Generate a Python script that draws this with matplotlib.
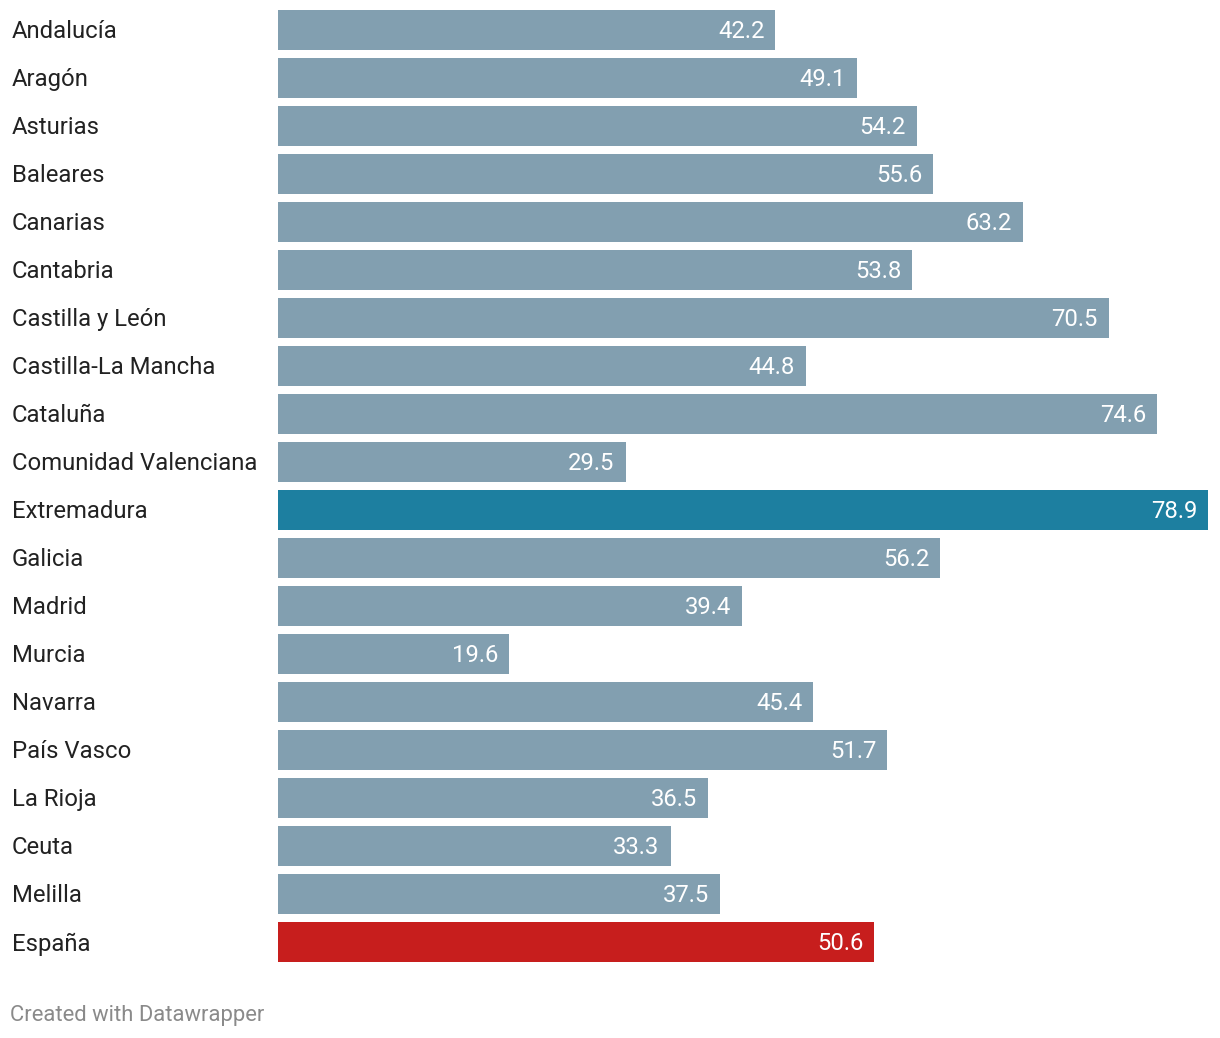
import matplotlib.pyplot as plt

plt.rcParams['font.family'] = ['Roboto', 'DejaVu Sans']

regions = ["Andalucía", "Aragón", "Asturias", "Baleares", "Canarias", "Cantabria",
           "Castilla y León", "Castilla-La Mancha", "Cataluña", "Comunidad Valenciana",
           "Extremadura", "Galicia", "Madrid", "Murcia", "Navarra", "País Vasco",
           "La Rioja", "Ceuta", "Melilla", "España"]
values = [42.2, 49.1, 54.2, 55.6, 63.2, 53.8, 70.5, 44.8, 74.6, 29.5,
          78.9, 56.2, 39.4, 19.6, 45.4, 51.7, 36.5, 33.3, 37.5, 50.6]

base_color = "#829fb0"
highlight = {"Extremadura": "#1d7fa0", "España": "#c71e1d"}
colors = [highlight.get(r, base_color) for r in regions]

W, H = 1220, 1038
fig = plt.figure(figsize=(W / 100, H / 100), dpi=100)
ax = fig.add_axes([278 / W, (H - 966) / H, 930 / W, 960 / H])

ypos = list(range(len(regions)))
ax.barh(ypos, values, height=40 / 48, color=colors)
ax.set_xlim(0, max(values))
ax.set_ylim(len(regions) - 0.5, -0.5)
ax.axis("off")

for y, r, v in zip(ypos, regions, values):
    ax.annotate(f"{v:.1f}", (v, y), xytext=(-11, -2), textcoords="offset pixels",
                ha="right", va="center", color="white", fontsize=17.2)
    ax.annotate(r, (0, y), xytext=(12 - 278, -2), textcoords="offset pixels",
                ha="left", va="center", color="#222222", fontsize=17.2,
                annotation_clip=False)

fig.text(10 / W, 1 - 1015 / H, "Created with Datawrapper", ha="left", va="center",
         color="#8a8a8a", fontsize=15.8)

fig.savefig("out.png", dpi=100)
